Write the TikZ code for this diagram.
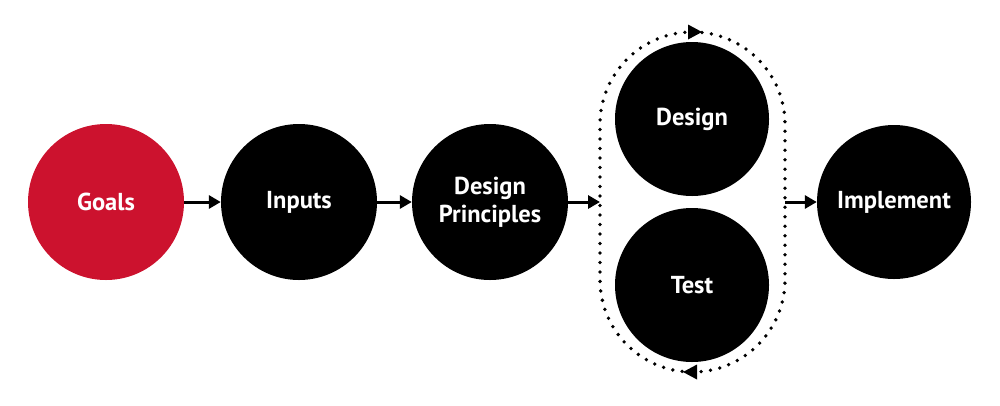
\documentclass[tikz,border=0pt]{standalone}
\usepackage{fontspec}
\setmainfont{PT Sans}
\usetikzlibrary{arrows.meta}
\definecolor{goalred}{RGB}{204,18,46}
\tikzset{
  stage/.style={circle, minimum size=156pt, inner sep=0pt, fill=black, text=white,
    font=\bfseries\fontsize{24.5}{28}\selectfont, align=center},
  flow/.style={line width=3pt, -{Triangle[length=12pt,width=13pt]}},
  loop/.style={line width=3.8pt, line cap=round, dash pattern=on 0pt off 9.5pt},
  tip/.style={fill=black}
}
\begin{document}
\begin{tikzpicture}[x=1pt,y=-1pt]
\useasboundingbox (0,0) rectangle (1000,405);
\node[stage, fill=goalred] (goals) at (106,202) {Goals};
\node[stage] (inputs) at (299,202) {Inputs};
\node[stage] (dp) at (490,202) {Design\\Principles};
\node[stage, minimum size=154pt] (design) at (692,119) {Design};
\node[stage, minimum size=154pt] (test) at (692,285) {Test};
\node[stage, minimum size=154pt] (impl) at (894,202) {Implement};
\coordinate (loopL) at (600,202);
\coordinate (loopR) at (785,202);
\draw[loop] (692.5,32) arc[start angle=-90, end angle=0, radius=92.5]
  -- (785,279.5) arc[start angle=0, end angle=180, radius=92.5]
  -- (600,124.5) arc[start angle=180, end angle=270, radius=92.5];
\fill[tip] (702,32) -- (688,24.5) -- (688,39.5) -- cycle;
\fill[tip] (683,372) -- (697,364.5) -- (697,379.5) -- cycle;
\draw[flow] (goals) -- (inputs);
\draw[flow] (inputs) -- (dp);
\draw[flow] (dp) -- (loopL);
\draw[flow] (loopR) -- (impl);
\end{tikzpicture}
\end{document}
